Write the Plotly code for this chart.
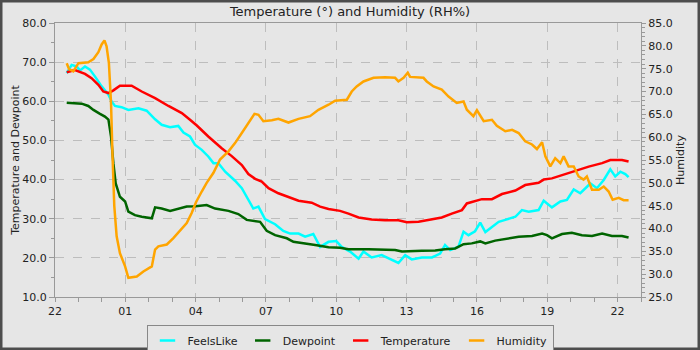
import plotly.graph_objects as go

# hours after 22:00 of the first day
tick_hours = [0, 3, 6, 9, 12, 15, 18, 21, 24]
tick_labels = ["22", "01", "04", "07", "10", "13", "16", "19", "22"]

t_temp = [0.5, 0.85, 1.28, 1.56, 1.85, 2.06, 2.28, 2.49, 2.77, 3.27, 3.7, 4.27, 4.84, 5.41, 5.76, 6.05,
          6.54, 7.11, 7.54, 7.97, 8.25, 8.54, 8.82, 9.11, 9.53, 9.96, 10.39, 10.95, 11.31, 11.67, 12.16,
          12.52, 12.95, 13.51, 14.08, 14.65, 15.01, 15.51, 16.08, 16.5, 16.93, 17.36, 17.57, 17.92,
          18.21, 18.64, 19.07, 19.64, 20.06, 20.63, 20.85, 21.2, 21.77, 22.2, 22.77, 23.34, 23.69, 24.19, 24.47]
temperature = [67.4, 68.0, 67.0, 65.9, 64.2, 62.5, 62.1, 62.8, 64.0, 64.0, 62.5, 60.8, 58.8, 57.0, 55.3, 53.8,
               51.0, 48.0, 46.0, 43.7, 41.4, 40.2, 39.5, 37.8, 36.5, 35.6, 34.6, 34.1, 33.1, 32.5, 32.0,
               31.3, 30.3, 29.8, 29.6, 29.6, 29.1, 29.2, 29.8, 30.3, 31.3, 32.2, 33.9, 34.4,
               35.0, 35.0, 36.3, 37.2, 38.6, 39.2, 40.0, 40.3, 41.4, 42.3, 43.3, 44.2, 45.0, 45.0, 44.6]

t_dew = [0.5, 0.85, 1.14, 1.42, 1.64, 1.92, 2.13, 2.28, 2.39, 2.49, 2.59, 2.77, 2.99, 3.13, 3.41, 3.7, 4.13,
         4.27, 4.55, 4.91, 5.26, 5.62, 6.0, 6.47, 6.83, 7.4, 7.82, 8.18, 8.75, 9.03, 9.39, 9.89, 10.17,
         10.67, 11.1, 11.67, 12.16, 12.52, 13.37, 14.51, 14.8, 15.65, 16.22, 16.64, 17.07, 17.43, 17.78,
         18.14, 18.36, 18.78, 19.21, 19.78, 20.35, 20.78, 20.99, 21.2, 21.63, 22.05, 22.48, 22.91, 23.34,
         23.76, 24.19, 24.47]
dewpoint = [59.6, 59.4, 59.4, 58.8, 57.8, 56.8, 56.1, 55.3, 51.0, 44.2, 39.0, 35.6, 34.4, 31.8, 30.9, 30.5, 30.1,
            32.9, 32.6, 32.0, 32.6, 33.1, 33.2, 33.5, 32.6, 32.0, 31.2, 29.7, 29.2, 26.9, 25.8, 25.0, 24.1,
            23.7, 23.3, 22.7, 22.6, 22.2, 22.2, 22.0, 21.6, 21.8, 21.9, 22.2, 22.4, 23.5, 23.7,
            24.2, 23.7, 24.4, 24.8, 25.4, 25.6, 26.2, 25.8, 25.0, 26.1, 26.4, 25.8, 25.6, 26.2,
            25.6, 25.6, 25.2]

t_feels = [0.5, 0.71, 0.92, 1.07, 1.28, 1.49, 1.71, 1.99, 2.28, 2.42, 2.56, 2.84, 3.13, 3.56, 3.91, 4.27,
           4.55, 4.91, 5.26, 5.48, 5.76, 5.97, 6.26, 6.54, 6.76, 6.97, 7.26, 7.68, 7.97, 8.25, 8.46, 8.68,
           8.96, 9.39, 9.74, 10.03, 10.39, 10.67, 11.02, 11.31, 11.67, 12.0, 12.23, 12.59, 12.95, 13.16,
           13.51, 13.94, 14.3, 14.65, 14.94, 15.22, 15.65, 16.08, 16.43, 16.64, 16.86, 17.21, 17.43, 17.64,
           17.92, 18.14, 18.36, 18.64, 18.93, 19.21, 19.64, 19.92, 20.21, 20.63, 20.85, 21.2, 21.56, 21.84,
           22.13, 22.41, 22.84, 23.12, 23.41, 23.69, 23.9, 24.12, 24.33, 24.47]
feels_like = [67.2, 69.3, 68.9, 67.9, 68.9, 68.1, 66.3, 63.8, 61.7, 59.9, 58.8, 58.5, 57.8, 58.2, 57.6, 55.4,
              54.0, 53.4, 53.7, 52.0, 51.0, 48.9, 47.6, 45.9, 44.2, 44.2, 42.0, 39.7, 37.8, 34.8, 32.6, 33.1,
              29.9, 28.6, 26.9, 26.2, 26.2, 25.4, 26.1, 22.8, 24.1, 24.3, 22.8, 21.6, 19.8, 21.6,
              20.1, 20.7, 19.6, 18.7, 20.7, 19.6, 20.1, 20.1, 21.1, 23.3, 22.0, 22.8, 26.7, 25.8,
              26.8, 29.0, 26.6, 27.9, 29.2, 29.7, 30.5, 32.2, 31.8, 32.2, 34.6, 32.9, 34.4, 34.8,
              37.5, 36.5, 39.0, 37.8, 39.9, 42.6, 40.8, 42.0, 41.4, 40.6]

t_hum = [0.5, 0.6, 0.78, 1.0, 1.42, 1.64, 1.85, 1.99, 2.11, 2.2, 2.3, 2.39, 2.45, 2.53, 2.63, 2.77, 2.99,
         3.13, 3.49, 3.77, 4.13, 4.27, 4.41, 4.77, 5.05, 5.33, 5.62, 5.83, 6.02, 6.26, 6.47, 6.76, 7.04,
         7.4, 7.68, 7.97, 8.25, 8.51, 8.68, 8.89, 9.25, 9.53, 9.96, 10.39, 10.88, 11.24, 11.67, 11.95,
         12.45, 12.66, 12.87, 13.16, 13.59, 14.08, 14.51, 14.65, 14.87, 15.05, 15.15, 15.72, 15.86, 16.15,
         16.5, 16.79, 17.14, 17.43, 17.57, 17.85, 18.0, 18.14, 18.29, 18.64, 18.85, 19.21, 19.5, 19.78,
         20.06, 20.35, 20.56, 20.78, 20.92, 21.13, 21.34, 21.56, 21.7, 21.91, 22.13, 22.34, 22.55, 22.69,
         22.91, 23.2, 23.41, 23.62, 23.79, 24.05, 24.26, 24.47]
humidity = [76.2, 74.9, 74.4, 76.2, 76.4, 77.1, 78.6, 80.3, 81.2, 79.9, 76.2, 67.5, 56.5, 44.9, 38.3, 34.6, 31.7,
            29.2, 29.5, 30.6, 31.7, 35.4, 36.1, 36.5, 37.9, 39.6, 41.2, 43.4, 45.8, 48.1, 50.0, 52.2, 55.1,
            56.9, 58.7, 60.9, 63.1, 65.1, 64.9, 63.5, 63.7, 64.0, 63.2, 64.0, 64.6, 66.0, 67.1, 68.0,
            68.2, 70.0, 71.1, 72.2, 73.0, 73.1, 73.0, 72.2, 73.0, 74.1, 73.2, 73.0, 72.2, 71.1,
            70.4, 68.9, 67.5, 67.8, 66.0, 64.6, 65.9, 64.6, 63.5, 63.8, 62.5, 61.3, 61.6, 60.9,
            59.1, 58.4, 57.4, 58.9, 55.8, 53.6, 55.4, 54.3, 55.8, 53.6, 53.6, 51.4, 50.7, 51.4,
            48.5, 48.5, 49.2, 48.1, 46.3, 46.7, 46.2, 46.2]

series = [
    ("FeelsLike", t_feels, feels_like, "#00ffff", "y"),
    ("Dewpoint", t_dew, dewpoint, "#006400", "y"),
    ("Temperature", t_temp, temperature, "#ff0000", "y"),
    ("Humidity", t_hum, humidity, "#ffa500", "y2"),
]

BG = "#e6e6e6"
AX = "#999999"
FONT = "DejaVu Sans"

fig = go.Figure()
for name, tx, ty, col, ax in series:
    fig.add_trace(go.Scatter(x=tx, y=ty, mode="lines", name=name, yaxis=ax,
                             line=dict(color=col, width=2.5), showlegend=False))
for name, tx, ty, col, ax in series:
    fig.add_trace(go.Scatter(x=[None], y=[None], mode="markers", name=name, yaxis=ax,
                             marker=dict(symbol="line-ew-open", size=11, color=col,
                                         line=dict(color=col, width=2.5)),
                             showlegend=True))

fig.update_layout(
    width=700, height=350,
    margin=dict(l=55, r=59, t=23, b=53),
    paper_bgcolor=BG, plot_bgcolor=BG,
    font=dict(family=FONT, size=11, color="#222222"),
    title=dict(text="Temperature (°) and Humidity (RH%)", x=0.5, xanchor="center",
               y=0.968, yanchor="middle", font=dict(size=13, color="#222222")),
    xaxis=dict(range=[0, 25], tickmode="array", tickvals=tick_hours, ticktext=tick_labels,
               automargin=False,
               showline=True, linecolor=AX, linewidth=1, mirror=True,
               ticks="outside", ticklen=4, tickcolor=AX,
               showgrid=True, gridcolor="#bdbdbd", griddash="dash", gridwidth=1,
               zeroline=False,
               minor=dict(dtick=1, tick0=0, ticks="outside", ticklen=4, tickcolor=AX, showgrid=False)),
    yaxis=dict(range=[10, 80], dtick=10, tick0=10, tickformat=".1f", automargin=False,
               title=dict(text="Temperature and Dewpoint", standoff=0, font=dict(size=11)),
               showline=True, linecolor=AX, linewidth=1, mirror=True,
               ticks="outside", ticklen=5, tickcolor=AX,
               showgrid=True, gridcolor="#bdbdbd", griddash="dash", gridwidth=1, zeroline=False,
               minor=dict(dtick=5, ticks="outside", ticklen=3, tickcolor=AX, showgrid=False)),
    yaxis2=dict(range=[25, 85], dtick=5, tick0=25, tickformat=".1f", overlaying="y", side="right",
                automargin=False,
                title=dict(text="Humidity", standoff=4, font=dict(size=11)),
                showline=True, linecolor=AX, linewidth=1,
                ticks="outside", ticklen=4, tickcolor=AX, showgrid=False, zeroline=False,
                minor=dict(dtick=1, ticks="outside", ticklen=3, tickcolor=AX, showgrid=False)),
    legend=dict(orientation="h", x=0.5, xref="container", xanchor="center",
                y=1 - 325 / 350, yref="container", yanchor="top",
                bgcolor=BG, bordercolor="#888888", borderwidth=1, font=dict(size=11),
                itemwidth=30, tracegroupgap=0),
    shapes=[dict(type="rect", xref="paper", yref="paper",
                 x0=-55 / 586, x1=645 / 586, y0=-53 / 274, y1=1 + 23 / 274,
                 line=dict(color="#4d4d4d", width=5), fillcolor="rgba(0,0,0,0)", layer="above")],
)

fig.write_html("out.html")
